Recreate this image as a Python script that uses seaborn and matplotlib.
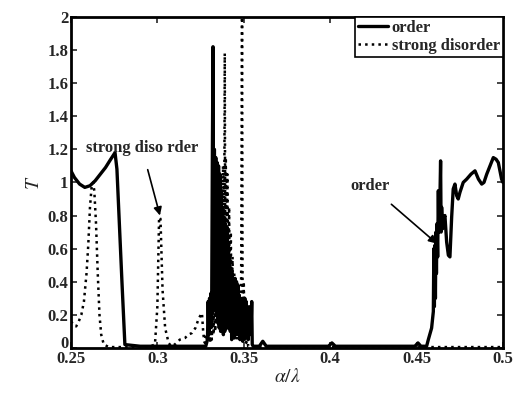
import numpy as np
import pandas as pd
import seaborn as sns
import matplotlib
matplotlib.use("Agg")
import matplotlib.pyplot as plt
import matplotlib.transforms as mtransforms

# ---- data ----
order_x = [0.2500, 0.2520, 0.2550, 0.2580, 0.2610, 0.2640, 0.2670, 0.2700, 0.2730, 0.2755,
           0.2766, 0.2780, 0.2795, 0.2812, 0.2900, 0.3000, 0.3100, 0.3200, 0.3280,
           0.3290, 0.3294, 0.3298, 0.3302, 0.3306, 0.3310, 0.3314, 0.3318, 0.3322, 0.3326,
           0.3330, 0.3334, 0.3338, 0.3342, 0.3346, 0.3350, 0.3354, 0.3358, 0.3362, 0.3366,
           0.3370, 0.3374, 0.3378, 0.3382, 0.3386, 0.3390, 0.3394, 0.3398, 0.3402, 0.3406,
           0.3410, 0.3414, 0.3418, 0.3422, 0.3426, 0.3430, 0.3434, 0.3438, 0.3442, 0.3446,
           0.3450, 0.3454, 0.3458, 0.3462, 0.3466, 0.3470, 0.3474, 0.3478, 0.3482, 0.3486,
           0.3490, 0.3494, 0.3498, 0.3502, 0.3506, 0.3510, 0.3514, 0.3518, 0.3522, 0.3526,
           0.3530, 0.3534, 0.3538, 0.3542, 0.3546, 0.3549, 0.3555, 0.3590, 0.3610, 0.3630,
           0.3800, 0.3990, 0.4010, 0.4030, 0.4300, 0.4490, 0.4508, 0.4525, 0.4558, 0.4568,
           0.4587, 0.4597, 0.4600, 0.4603, 0.4606, 0.4609, 0.4612, 0.4615, 0.4618, 0.4622,
           0.4626, 0.4629, 0.4633, 0.4639, 0.4642, 0.4645, 0.4651, 0.4657, 0.4664, 0.4674,
           0.4684, 0.4693, 0.4703, 0.4712, 0.4722, 0.4732, 0.4741, 0.4751, 0.4770, 0.4790,
           0.4815, 0.4838, 0.4858, 0.4877, 0.4890, 0.4906, 0.4925, 0.4944, 0.4960, 0.4973,
           0.4992, 0.5000]
order_y = [1.07, 1.03, 0.99, 0.97, 0.98, 1.01, 1.05, 1.09, 1.14, 1.18,
           1.08, 0.75, 0.40, 0.02, 0.01, 0.01, 0.01, 0.01, 0.01,
           0.05, 0.28, 0.08, 0.30, 0.12, 0.33, 0.15, 1.10, 1.82, 0.30,
           1.20, 0.25, 1.15, 0.20, 1.12, 0.15, 1.10, 0.12, 1.05, 0.10,
           0.95, 0.15, 0.85, 0.08, 0.78, 0.10, 0.75, 0.20, 0.72, 0.12,
           0.62, 0.18, 0.55, 0.10, 0.48, 0.05, 0.45, 0.12, 0.40, 0.06,
           0.42, 0.15, 0.40, 0.08, 0.38, 0.12, 0.32, 0.05, 0.30, 0.10,
           0.28, 0.04, 0.25, 0.12, 0.30, 0.06, 0.28, 0.10, 0.25, 0.05,
           0.22, 0.08, 0.25, 0.12, 0.28, 0.02, 0.01, 0.01, 0.04, 0.01,
           0.01, 0.01, 0.03, 0.01, 0.01, 0.01, 0.03, 0.01, 0.01, 0.05,
           0.12, 0.22, 0.60, 0.25, 0.62, 0.30, 0.70, 0.45, 0.75, 0.55,
           0.95, 0.70, 0.78, 1.13, 0.70, 0.85, 0.72, 0.78, 0.80, 0.64,
           0.56, 0.55, 0.79, 0.96, 0.99, 0.92, 0.90, 0.94, 1.00, 1.02,
           1.05, 1.07, 1.02, 0.99, 1.00, 1.05, 1.10, 1.15, 1.14, 1.12,
           1.02, 1.00]

dis_x = [0.2500, 0.2515, 0.2530, 0.2545, 0.2560, 0.2575, 0.2590, 0.2600, 0.2610, 0.2620,
         0.2628, 0.2635, 0.2645, 0.2655, 0.2665, 0.2675, 0.2690, 0.2720, 0.2800, 0.2900,
         0.2960, 0.2986, 0.3000, 0.3010, 0.3018, 0.3030, 0.3045, 0.3065, 0.3080, 0.3100,
         0.3130, 0.3160, 0.3180, 0.3200, 0.3220, 0.3240, 0.3258, 0.3265, 0.3270, 0.3275,
         0.3280, 0.3290, 0.3300, 0.3305, 0.3310, 0.3315, 0.3320, 0.3325, 0.3330, 0.3335,
         0.3340, 0.3345, 0.3350, 0.3355, 0.3360, 0.3365, 0.3370, 0.3375, 0.3380, 0.3385,
         0.3390, 0.3393, 0.3396, 0.3400, 0.3405, 0.3410, 0.3415, 0.3420, 0.3425, 0.3430,
         0.3435, 0.3440, 0.3445, 0.3450, 0.3455, 0.3460, 0.3465, 0.3470, 0.3475, 0.3480,
         0.3485, 0.3490, 0.3493, 0.3497, 0.3500, 0.3505, 0.3510, 0.3515, 0.3520, 0.3525,
         0.3600, 0.4000, 0.4500, 0.5000]
dis_y = [0.16, 0.14, 0.13, 0.16, 0.20, 0.28, 0.45, 0.62, 0.85, 0.98,
         1.00, 0.95, 0.75, 0.45, 0.20, 0.08, 0.02, 0.005, 0.005, 0.005,
         0.01, 0.02, 0.25, 0.79, 0.78, 0.35, 0.12, 0.03, 0.01, 0.02,
         0.05, 0.06, 0.08, 0.09, 0.12, 0.18, 0.21, 0.10, 0.05, 0.03,
         0.08, 0.04, 0.10, 0.03, 0.15, 0.05, 0.25, 0.08, 0.35, 0.10,
         0.45, 0.15, 0.60, 0.20, 0.75, 0.15, 0.90, 0.20, 1.10, 0.30,
         1.78, 0.50, 1.15, 0.25, 1.05, 0.20, 0.85, 0.15, 0.70, 0.10,
         0.55, 0.08, 0.45, 0.10, 0.30, 0.05, 0.35, 0.08, 0.30, 0.05,
         0.45, 2.10, 0.35, 0.10, 0.40, 0.05, 0.30, 0.03, 0.20, 0.01,
         0.005, 0.005, 0.005, 0.005]

xticks = [0.25, 0.3, 0.35, 0.4, 0.45, 0.5]
xtick_labels = ["0.25", "0.3", "0.35", "0.4", "0.45", "0.5"]
yticks = [0, 0.2, 0.4, 0.6, 0.8, 1, 1.2, 1.4, 1.6, 1.8, 2]
ytick_labels = ["0", "0.2", "0.4", "0.6", "0.8", "1", "1.2", "1.4", "1.6", "1.8", "2"]

df_order = pd.DataFrame({"x": order_x, "T": order_y})
df_dis = pd.DataFrame({"x": dis_x, "T": dis_y})

sns.set_theme(style="ticks")
plt.rcParams["font.family"] = ["Liberation Serif", "DejaVu Serif"]
plt.rcParams["mathtext.fontset"] = "stix"

fig = plt.figure(figsize=(5.18, 3.94), dpi=100)
ax = fig.add_axes([0.137, 0.117, 0.834, 0.840])

sns.lineplot(data=df_order, x="x", y="T", ax=ax, color="black", linewidth=2.4,
             estimator=None, sort=False, label="order")
sns.lineplot(data=df_dis, x="x", y="T", ax=ax, color="black", linewidth=1.8,
             linestyle=":", estimator=None, sort=False, label="strong disorder")

ax.set_xlim(0.25, 0.5)
ax.set_ylim(0, 2)
ax.set_xticks(xticks)
ax.set_xticklabels(xtick_labels, fontsize=12, fontweight="bold")
ax.set_yticks(yticks)
ax.set_yticklabels(ytick_labels, fontsize=12, fontweight="bold")
ax.tick_params(direction="in", length=4, width=1.2, top=True, right=True, pad=2)
for s in ax.spines.values():
    s.set_linewidth(2.0)
    s.set_color("black")

# lift the "0" label a little so it sits just above "0.25" as in the scan
zero_lbl = ax.get_yticklabels()[0]
zero_lbl.set_transform(zero_lbl.get_transform() +
                       mtransforms.ScaledTranslation(0, 4 / 72, fig.dpi_scale_trans))

ax.set_xlabel(r"$\alpha/\lambda$", fontsize=14, labelpad=1)
ax.set_ylabel(r"$T$", fontsize=14, labelpad=3)

ax.annotate("strong diso rder", xy=(0.3015, 0.80), xytext=(0.291, 1.21),
            fontsize=12, fontweight="bold", ha="center", va="center",
            arrowprops=dict(arrowstyle="-|>", color="black", lw=1.2,
                            shrinkA=8, shrinkB=0))
ax.annotate("order", xy=(0.4618, 0.63), xytext=(0.423, 0.98),
            fontsize=12, fontweight="bold", ha="center", va="center",
            arrowprops=dict(arrowstyle="-|>", color="black", lw=1.2,
                            shrinkA=8, shrinkB=0))

leg = ax.legend(loc="upper right", borderaxespad=0.0,
                handlelength=1.8, handletextpad=0.2, borderpad=0.2,
                labelspacing=0.1, fancybox=False, framealpha=1,
                prop={"weight": "bold", "size": 12})
leg.get_frame().set_edgecolor("black")
leg.get_frame().set_linewidth(1.2)

fig.savefig("out.png", dpi=100)
